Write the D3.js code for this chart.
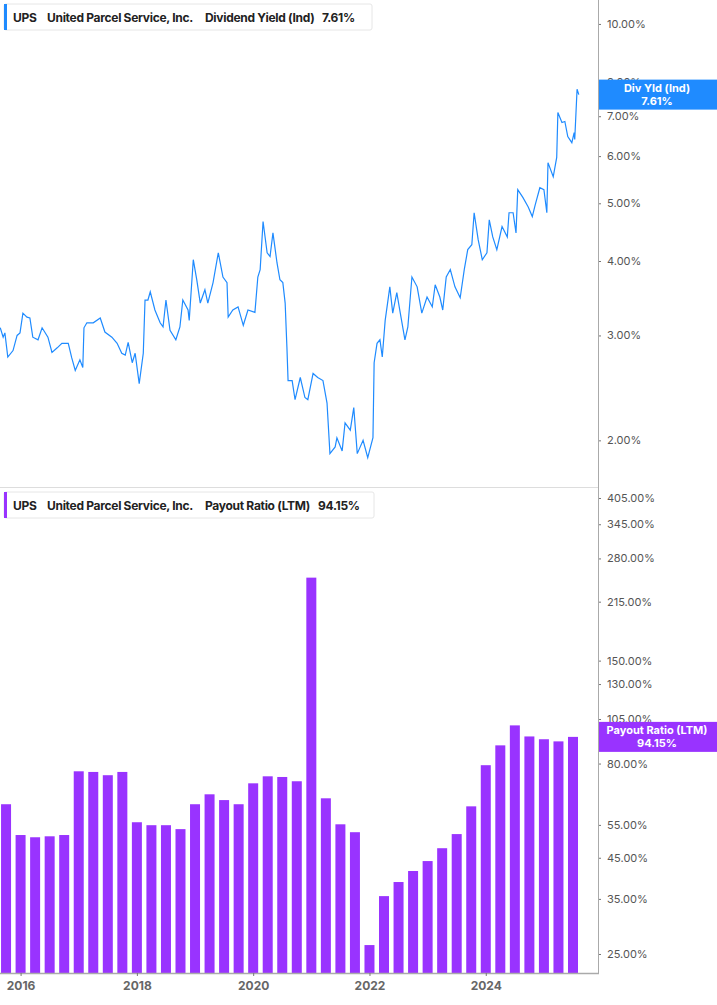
<!DOCTYPE html>
<html>
<head>
<meta charset="utf-8">
<script src="https://cdn.jsdelivr.net/npm/d3@7"></script>
<style>
  body { margin: 0; background: #fff; font-family: Inter, "Noto Sans", sans-serif; }
  svg text { font-family: Inter, "Noto Sans", sans-serif; }
</style>
</head>
<body>
<svg id="chart" width="717" height="1005"></svg>
<script>
// Dividend yield (%) by decimal year
const yieldDates = [2015.65,2015.70,2015.73,2015.78,2015.87,2015.94,2015.99,2016.04,2016.11,2016.16,2016.21,2016.30,2016.37,2016.47,2016.54,2016.63,2016.71,2016.82,2016.88,2016.94,
  2017.02,2017.07,2017.09,2017.14,2017.25,2017.37,2017.45,2017.57,2017.66,2017.74,2017.80,2017.85,2017.92,2017.97,2018.04,2018.11,2018.14,2018.19,2018.23,2018.31,
  2018.40,2018.45,2018.50,2018.57,2018.67,2018.74,2018.79,2018.88,2018.90,2018.97,2019.03,2019.09,2019.17,2019.22,2019.31,2019.40,2019.48,2019.55,2019.57,2019.65,
  2019.74,2019.83,2019.91,2020.03,2020.08,2020.12,2020.17,2020.24,2020.29,2020.34,2020.41,2020.46,2020.51,2020.55,2020.58,2020.60,2020.67,2020.72,2020.81,2020.89,
  2020.94,2021.03,2021.11,2021.20,2021.27,2021.32,2021.41,2021.44,2021.53,2021.58,2021.67,2021.73,2021.79,2021.89,2021.97,2022.06,2022.08,2022.13,2022.18,2022.22,
  2022.27,2022.35,2022.40,2022.47,2022.53,2022.61,2022.66,2022.73,2022.82,2022.90,2022.99,2023.08,2023.13,2023.21,2023.26,2023.32,2023.39,2023.47,2023.56,2023.63,
  2023.69,2023.76,2023.80,2023.87,2023.94,2024.02,2024.06,2024.12,2024.19,2024.28,2024.37,2024.40,2024.47,2024.52,2024.55,2024.64,2024.73,2024.80,2024.85,2024.93,
  2025.00,2025.05,2025.07,2025.16,2025.22,2025.24,2025.31,2025.36,2025.41,2025.48,2025.52,2025.53,2025.57,2025.60];
const yieldValues = [3.09,2.98,3.03,2.76,2.83,3.00,3.03,3.27,3.22,3.21,2.98,2.95,3.09,2.98,2.81,2.86,2.91,2.91,2.75,2.62,
  2.73,2.65,3.09,3.15,3.15,3.21,3.04,2.98,2.91,2.80,2.78,2.92,2.70,2.80,2.49,2.80,3.44,3.44,3.55,3.31,
  3.15,3.10,3.44,3.06,2.95,3.10,3.44,3.31,3.18,4.02,3.72,3.40,3.58,3.40,3.68,4.13,3.76,3.68,3.22,3.31,
  3.35,3.12,3.31,3.28,3.76,3.87,4.66,4.13,4.07,4.46,3.97,3.72,3.68,3.40,2.87,2.52,2.52,2.34,2.55,2.36,
  2.34,2.59,2.55,2.52,2.31,1.90,1.95,2.02,1.92,2.14,2.08,2.27,1.90,2.00,1.87,2.02,2.70,2.91,2.95,2.76,
  3.18,3.62,3.27,3.54,3.27,2.95,3.10,3.76,3.62,3.27,3.48,3.35,3.65,3.48,3.31,3.76,3.87,3.62,3.47,3.87,
  4.18,4.26,4.82,4.34,4.02,4.13,4.69,4.39,4.18,4.57,4.39,4.82,4.82,4.46,5.27,5.11,4.93,4.75,4.97,5.31,
  5.27,4.82,5.85,5.54,5.97,7.10,6.83,6.86,6.47,6.32,6.57,6.40,7.77,7.61];

// Payout ratio (LTM, %) per quarter, starting 2015 Q4
const payoutDates = d3.range(40).map(i => 2015.75 + i * 0.25);
const payoutValues = [62.4,51.7,51.0,51.3,51.7,76.3,76.0,74.5,76.0,55.9,54.9,54.9,53.6,62.4,66.3,64.0,62.4,70.9,74.0,73.7,
  71.8,249,64.7,55.2,52.6,26.4,35.6,38.8,41.5,44.1,47.7,52.0,61.6,79.2,89.4,101,94.4,92.8,91.6,94.15];

const yieldTicks = [2,3,4,5,6,7,8,10];
const payoutTicks = [25,35,45,55,80,105,130,150,215,280,345,405];
const yearTicks = [2016,2018,2020,2022,2024];

const blue = "#1f8bff", purple = "#9933ff";
const svg = d3.select("#chart");
const plotRight = 598;

const x = d3.scaleLinear().domain([2015.646, 2025.93]).range([0, plotRight]);
const yTop = d3.scaleLog().domain([1.67, 10.97]).range([487, 0]);
const yBot = d3.scaleLog().domain([22.26, 430.5]).range([973, 488]);

// panel divider
svg.append("line").attr("x1", 0).attr("x2", plotRight).attr("y1", 487.5).attr("y2", 487.5)
  .attr("stroke", "#ddd");

// line
svg.append("defs").append("clipPath").attr("id", "clipTop")
  .append("rect").attr("width", plotRight).attr("height", 487);
const pts = yieldDates.map((d, i) => [d, yieldValues[i]]);
svg.append("path").datum(pts)
  .attr("clip-path", "url(#clipTop)")
  .attr("fill", "none").attr("stroke", blue).attr("stroke-width", 1.2)
  .attr("d", d3.line().x(d => x(d[0])).y(d => yTop(d[1])));

// bars
const bw = 10;
svg.append("g").selectAll("rect").data(payoutValues).join("rect")
  .attr("x", (d, i) => Math.max(0, x(payoutDates[i]) - bw / 2))
  .attr("width", (d, i) => x(payoutDates[i]) - bw / 2 < 0 ? x(payoutDates[i]) + bw / 2 : bw)
  .attr("y", d => yBot(d))
  .attr("height", d => 973 - yBot(d))
  .attr("fill", purple);

// right axes
const axisTop = d3.axisRight(yTop).tickValues(yieldTicks).tickSize(3).tickPadding(6)
  .tickFormat(d => d.toFixed(2) + "%");
const axisBot = d3.axisRight(yBot).tickValues(payoutTicks).tickSize(3).tickPadding(6)
  .tickFormat(d => d.toFixed(2) + "%");
[axisTop, axisBot].forEach(ax => {
  const g = svg.append("g").attr("transform", `translate(${plotRight},0)`).call(ax);
  g.select(".domain").remove();
  g.selectAll("line").attr("stroke", "#777");
  g.selectAll("text").attr("fill", "#555").style("font-size", "11px");
});
svg.append("line").attr("x1", plotRight + 0.5).attr("x2", plotRight + 0.5)
  .attr("y1", 0).attr("y2", 974).attr("stroke", "#aaa");

// bottom axis
const axX = d3.axisBottom(x).tickValues(yearTicks).tickSize(3).tickPadding(5).tickFormat(d3.format("d"));
const gx = svg.append("g").attr("transform", "translate(0,973)").call(axX);
gx.select(".domain").attr("d", `M0,0.5H${plotRight + 1}`).attr("stroke", "#aaa").attr("stroke-width", 1.5);
gx.selectAll("line").attr("stroke", "#777");
gx.selectAll("text").attr("fill", "#666").style("font-size", "12px").style("font-weight", "700");

// legends
function legend(y0, color, name, val, w) {
  const g = svg.append("g").attr("transform", `translate(4,${y0})`);
  g.append("rect").attr("width", w).attr("height", 26).attr("rx", 2)
    .attr("fill", "#fff").attr("stroke", "#e6e6e6");
  g.append("rect").attr("width", 3).attr("height", 26).attr("fill", color);
  const t = [["UPS", 9], ["United Parcel Service, Inc.", 43], [name, 201], [val, w === 368 ? 318 : 314]];
  t.forEach(([s, px]) => g.append("text").attr("x", px).attr("y", 17.5)
    .attr("fill", "#222").style("font-size", "12px").style("font-weight", "700")
    .style("letter-spacing", "-0.3px").text(s));
}
legend(4, blue, "Dividend Yield (Ind)", "7.61%", 368);
legend(492, purple, "Payout Ratio (LTM)", "94.15%", 370);

// value badges
function badge(v, scale, color, l1, l2) {
  const cy = scale(v);
  const g = svg.append("g");
  g.append("rect").attr("x", plotRight + 1).attr("y", cy - 15).attr("width", 717 - plotRight).attr("height", 30)
    .attr("fill", color);
  g.append("text").attr("x", 657).attr("y", cy - 3).attr("text-anchor", "middle").attr("fill", "#fff")
    .style("font-size", "11px").style("font-weight", "700").text(l1);
  g.append("text").attr("x", 657).attr("y", cy + 10).attr("text-anchor", "middle").attr("fill", "#fff")
    .style("font-size", "11px").style("font-weight", "700").text(l2);
}
badge(7.61, yTop, blue, "Div Yld (Ind)", "7.61%");
badge(94.15, yBot, purple, "Payout Ratio (LTM)", "94.15%");
</script>
</body>
</html>
